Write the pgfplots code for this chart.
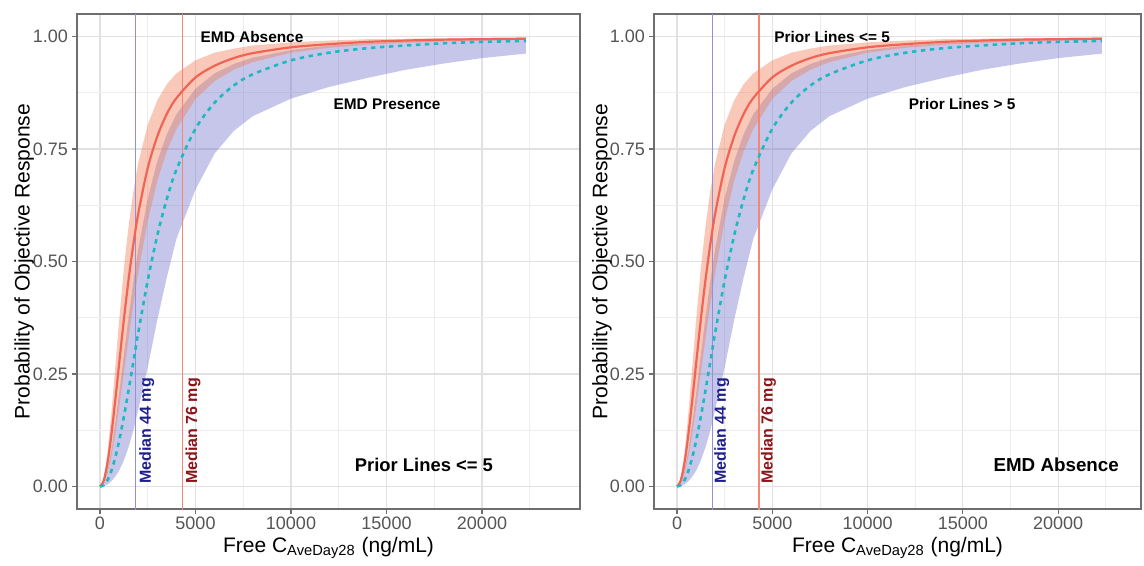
\documentclass[border=0pt]{standalone}
\usepackage{pgfplots}
\pgfplotsset{compat=1.18}
\usepackage{pgfplotstable}
\usepgfplotslibrary{fillbetween}
\usepackage{fontspec}
\setmainfont{Liberation Sans}
\definecolor{redline}{RGB}{240,100,85}
\definecolor{tealline}{RGB}{30,185,190}
\definecolor{orangeband}{RGB}{240,125,85}
\definecolor{blueband}{RGB}{120,120,205}
\definecolor{vblue}{RGB}{145,145,215}
\definecolor{vred}{RGB}{244,135,115}
\definecolor{darkbluetxt}{RGB}{30,30,140}
\definecolor{darkredtxt}{RGB}{140,20,25}
\definecolor{gridc}{RGB}{225,225,225}
\definecolor{tickc}{RGB}{85,85,85}
\definecolor{framec}{RGB}{110,110,110}

\pgfplotstableread{
C     ru     rl     rm     bu     bl     tm
0     0      0      0      0      0      0
200   0.0185 0.0071 0.0138 0.0088 0.001  0.0033
400   0.0763 0.0298 0.0545 0.0365 0.005  0.0147
600   0.164  0.0672 0.1165 0.0816 0.012  0.0353
800   0.266  0.1165 0.1919 0.140  0.022  0.0645
1000  0.368  0.174  0.272  0.206  0.035  0.101
1250  0.484  0.252  0.371  0.293  0.058  0.155
1500  0.580  0.330  0.461  0.378  0.088  0.215
1750  0.657  0.405  0.539  0.457  0.125  0.278
2000  0.718  0.474  0.606  0.527  0.17   0.341
2500  0.804  0.590  0.708  0.640  0.265  0.458
3000  0.858  0.679  0.778  0.723  0.37   0.558
3500  0.894  0.745  0.828  0.783  0.465  0.639
4000  0.918  0.794  0.863  0.827  0.55   0.704
5000  0.947  0.861  0.909  0.884  0.66   0.795
6000  0.964  0.901  0.935  0.918  0.74   0.853
7000  0.973  0.926  0.952  0.939  0.79   0.891
8000  0.980  0.943  0.963  0.953  0.823  0.916
10000 0.987  0.964  0.976  0.970  0.862  0.947
12000 0.991  0.975  0.983  0.980  0.888  0.964
14000 0.994  0.982  0.988  0.985  0.908  0.974
16000 0.995  0.986  0.991  0.989  0.926  0.980
18000 0.996  0.989  0.993  0.991  0.940  0.985
20000 0.997  0.991  0.994  0.993  0.952  0.988
22300 0.998  0.993  0.995  0.994  0.962  0.990
}\curves

\pgfplotsset{
  myaxis/.style={
    scale only axis,
    height=247.5pt,
    ymin=-0.05, ymax=1.05,
    xtick={0,5000,10000,15000,20000},
    ytick={0,0.25,0.5,0.75,1},
    minor xtick={2500,7500,12500,17500,22500},
    minor ytick={0.125,0.375,0.625,0.875},
    grid=both,
    major grid style={color=gridc, line width=0.6pt},
    minor grid style={color=gridc!60, line width=0.4pt},
    tick align=outside,
    xtick pos=bottom, ytick pos=left,
    major tick length=2.5pt, minor tick length=0pt,
    tick style={color=framec, line width=0.6pt},
    axis line style={color=framec, line width=0.9pt},
    scaled x ticks=false,
    ticklabel style={font=\fontsize{9}{10}\selectfont, text=tickc},
    /pgf/number format/assume math mode=true,
    yticklabel style={xshift=1.5pt, /pgf/number format/.cd, fixed, fixed zerofill, precision=2},
    xticklabel style={yshift=2pt, /pgf/number format/.cd, 1000 sep={}},
    xlabel={Free C\textsubscript{AveDay28} (ng/mL)},
    ylabel={Probability of Objective Response},
    label style={font=\fontsize{10.5}{12}\selectfont},
    xlabel style={at={(axis description cs:0.5,-0.079)}, anchor=center},
  }
}

\begin{document}
\begin{tikzpicture}
\begin{axis}[myaxis, at={(38.5pt,24.5pt)}, anchor=south west,
  width=251.5pt, xmin=-1204, xmax=25131,
  ylabel style={at={(axis description cs:-0.105,0.5)}, anchor=center}]
  \addplot[name path=bu, draw=none, forget plot] table[x=C,y=bu]{\curves};
  \addplot[name path=bl, draw=none, forget plot] table[x=C,y=bl]{\curves};
  \addplot[blueband, fill opacity=0.42, draw=none, forget plot] fill between[of=bu and bl];
  \addplot[name path=ru, draw=none, forget plot] table[x=C,y=ru]{\curves};
  \addplot[name path=rl, draw=none, forget plot] table[x=C,y=rl]{\curves};
  \addplot[orangeband, fill opacity=0.42, draw=none, forget plot] fill between[of=ru and rl];
  \addplot[vblue, line width=0.6pt] coordinates {(1860,-0.1) (1860,1.1)};
  \addplot[vred, line width=0.6pt] coordinates {(4300,-0.1) (4300,1.1)};
  \addplot[redline, line width=1.1pt, smooth] table[x=C,y=rm]{\curves};
  \addplot[tealline, line width=1.3pt, dash pattern=on 2.2pt off 2.3pt, smooth] table[x=C,y=tm]{\curves};
\node[font=\fontsize{7.7}{9}\selectfont\bfseries] at (axis cs:7960,1.0) {EMD Absence};
\node[font=\fontsize{7.7}{9}\selectfont\bfseries] at (axis cs:15030,0.849) {EMD Presence};
\node[font=\fontsize{9.2}{11}\selectfont\bfseries] at (axis cs:16960,0.049) {Prior Lines <= 5};
\node[rotate=90, anchor=west, inner sep=0pt, font=\fontsize{8}{9}\selectfont\bfseries, text=darkbluetxt] at (axis cs:2450,0.005) {Median 44 mg};
\node[rotate=90, anchor=west, inner sep=0pt, font=\fontsize{8}{9}\selectfont\bfseries, text=darkredtxt] at (axis cs:4870,0.005) {Median 76 mg};
\end{axis}
\begin{axis}[myaxis, at={(327pt,24.5pt)}, anchor=south west,
  width=243.5pt, xmin=-1207, xmax=24350,
  ylabel style={at={(axis description cs:-0.107,0.5)}, anchor=center}]
  \addplot[name path=bu2, draw=none, forget plot] table[x=C,y=bu]{\curves};
  \addplot[name path=bl2, draw=none, forget plot] table[x=C,y=bl]{\curves};
  \addplot[blueband, fill opacity=0.42, draw=none, forget plot] fill between[of=bu2 and bl2];
  \addplot[name path=ru2, draw=none, forget plot] table[x=C,y=ru]{\curves};
  \addplot[name path=rl2, draw=none, forget plot] table[x=C,y=rl]{\curves};
  \addplot[orangeband, fill opacity=0.42, draw=none, forget plot] fill between[of=ru2 and rl2];
  \addplot[vblue, line width=0.6pt] coordinates {(1860,-0.1) (1860,1.1)};
  \addplot[vred, line width=0.6pt] coordinates {(4300,-0.1) (4300,1.1)};
  \addplot[redline, line width=1.1pt, smooth] table[x=C,y=rm]{\curves};
  \addplot[tealline, line width=1.3pt, dash pattern=on 2.2pt off 2.3pt, smooth] table[x=C,y=tm]{\curves};
\node[font=\fontsize{7.7}{9}\selectfont\bfseries] at (axis cs:8140,1.0) {Prior Lines <= 5};
\node[font=\fontsize{7.7}{9}\selectfont\bfseries] at (axis cs:14960,0.849) {Prior Lines > 5};
\node[font=\fontsize{9.4}{11}\selectfont\bfseries] at (axis cs:19900,0.049) {EMD Absence};
\node[rotate=90, anchor=west, inner sep=0pt, font=\fontsize{8}{9}\selectfont\bfseries, text=darkbluetxt] at (axis cs:2350,0.005) {Median 44 mg};
\node[rotate=90, anchor=west, inner sep=0pt, font=\fontsize{8}{9}\selectfont\bfseries, text=darkredtxt] at (axis cs:4800,0.005) {Median 76 mg};
\end{axis}
\path (0,0) rectangle (572pt,279pt);
\end{tikzpicture}
\end{document}
